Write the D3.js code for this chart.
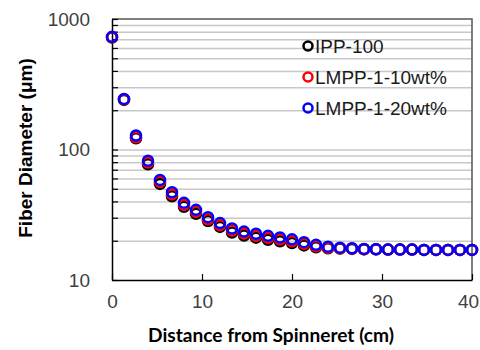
<!DOCTYPE html>
<html>
<head>
<meta charset="utf-8">
<script src="https://cdn.jsdelivr.net/npm/d3@7"></script>
<style>
body { margin: 0; background: #fff; }
</style>
</head>
<body>
<script>
// distance from spinneret (cm), 31 samples
var distance = d3.range(31).map(function(i) { return i * 40 / 30; });

var ipp100 = [720, 240, 122, 77, 54.5, 43.8, 36.4, 32.2, 28.3, 25.5, 23.1, 21.9, 21.1, 20.3, 19.8, 19.2,
  18.4, 17.8, 17.5, 17.4, 17.3, 17.2, 17.2, 17.1, 17.1, 17.1, 17.0, 17.0, 17.0, 17.0, 17.0];
var lmpp10 = [725, 242, 124, 79.5, 56.5, 45.3, 37.6, 33.3, 29.2, 26.3, 23.9, 22.7, 21.8, 21.0, 20.4, 19.8,
  18.9, 18.1, 17.7, 17.5, 17.4, 17.2, 17.2, 17.1, 17.1, 17.1, 17.0, 17.0, 17.0, 17.0, 17.0];
var lmpp20 = [730, 244, 128, 82, 58.5, 47, 39, 34.5, 30.3, 27.3, 24.8, 23.5, 22.6, 21.8, 21.2, 20.5,
  19.5, 18.6, 18.0, 17.7, 17.5, 17.3, 17.2, 17.1, 17.1, 17.1, 17.0, 17.0, 17.0, 17.0, 17.0];

var seriesNames = ["IPP-100", "LMPP-1-10wt%", "LMPP-1-20wt%"];
var seriesColors = ["#000000", "#ff0000", "#0000ff"];
var seriesValues = [ipp100, lmpp10, lmpp20];

var yMajor = [10, 100, 1000];
var xTicks = [0, 10, 20, 30, 40];

var width = 480,
    height = 350;
var plotL = 112, plotR = 472, plotT = 19, plotB = 280;

var svg = d3.select("body").append("svg")
    .attr("width", width)
    .attr("height", height)
    .style("display", "block");

var x = d3.scaleLinear().domain([0, 40]).range([plotL, plotR]);
var y = d3.scaleLog().domain([10, 1000]).range([plotB, plotT]);

// minor values 20..90, 200..900
var minor = [];
[10, 100].forEach(function(d) {
  for (var k = 2; k <= 9; k++) minor.push(d * k);
});

// grid lines
svg.append("g")
    .attr("transform", "translate(" + plotL + ",0)")
    .call(d3.axisLeft(y).tickValues(minor.concat([100])).tickSize(-(plotR - plotL)).tickFormat(""))
    .call(function(g) {
      g.select(".domain").remove();
      g.selectAll("line").attr("stroke", "#c8c8c8").attr("stroke-width", 1.5);
    });

// frame top/right
svg.append("path")
    .attr("d", "M" + plotL + "," + plotT + "H" + plotR + "V" + plotB)
    .attr("fill", "none")
    .attr("stroke", "#555")
    .attr("stroke-width", 1.5);

// y axis
svg.append("g")
    .attr("transform", "translate(" + plotL + ",0)")
    .call(d3.axisLeft(y).tickValues(minor.concat(yMajor)).tickSizeInner(-6).tickSizeOuter(0).tickPadding(22)
      .tickFormat(function(d) { return yMajor.indexOf(d) >= 0 ? d : ""; }))
    .call(function(g) {
      g.select(".domain").attr("stroke", "#000").attr("stroke-width", 1.5);
      g.selectAll("line").attr("stroke", "#000").attr("stroke-width", 1.2);
      g.selectAll("text")
        .attr("font-family", "Liberation Sans, Arial, sans-serif")
        .attr("font-size", 19)
        .attr("fill", "#404040");
    });

// x axis
svg.append("g")
    .attr("transform", "translate(0," + plotB + ")")
    .call(d3.axisBottom(x).tickValues(xTicks).tickSizeInner(-6).tickSizeOuter(0).tickPadding(15))
    .call(function(g) {
      g.select(".domain").attr("stroke", "#000").attr("stroke-width", 1.5);
      g.selectAll("line").attr("stroke", "#000").attr("stroke-width", 1.2);
      g.selectAll("text")
        .attr("font-family", "Liberation Sans, Arial, sans-serif")
        .attr("font-size", 19)
        .attr("fill", "#404040");
      // last label sits at the page edge
      g.selectAll(".tick").filter(function(d) { return d === 40; })
        .select("text").attr("dx", -4);
    });

// data
seriesValues.forEach(function(vals, s) {
  svg.append("g")
    .selectAll("circle")
    .data(vals)
    .enter().append("circle")
    .attr("cx", function(d, i) { return x(distance[i]); })
    .attr("cy", function(d) { return y(d); })
    .attr("r", 5)
    .attr("fill", "none")
    .attr("stroke", seriesColors[s])
    .attr("stroke-width", 2.5);
});

// legend
var legend = svg.append("g")
    .selectAll("g")
    .data(seriesNames)
    .enter().append("g")
    .attr("transform", function(d, i) { return "translate(308," + (46 + i * 31) + ")"; });

legend.append("circle")
    .attr("r", 4.5)
    .attr("fill", "none")
    .attr("stroke", function(d, i) { return seriesColors[i]; })
    .attr("stroke-width", 2.5);

legend.append("text")
    .attr("x", 7)
    .attr("y", 7)
    .attr("font-family", "Liberation Sans, Arial, sans-serif")
    .attr("font-size", 19)
    .attr("fill", "#1a1a1a")
    .text(function(d) { return d; });

// axis titles
svg.append("text")
    .attr("x", 271)
    .attr("y", 342)
    .attr("text-anchor", "middle")
    .attr("font-family", "Lato, sans-serif")
    .attr("font-weight", "bold")
    .attr("font-size", 18)
    .attr("textLength", 246)
    .attr("lengthAdjust", "spacingAndGlyphs")
    .text("Distance from Spinneret (cm)");

svg.append("text")
    .attr("transform", "translate(32,148) rotate(-90)")
    .attr("text-anchor", "middle")
    .attr("font-family", "Liberation Sans, Arial, sans-serif")
    .attr("font-weight", "bold")
    .attr("font-size", 19)
    .text("Fiber Diameter (\u03bcm)");
</script>
</body>
</html>
